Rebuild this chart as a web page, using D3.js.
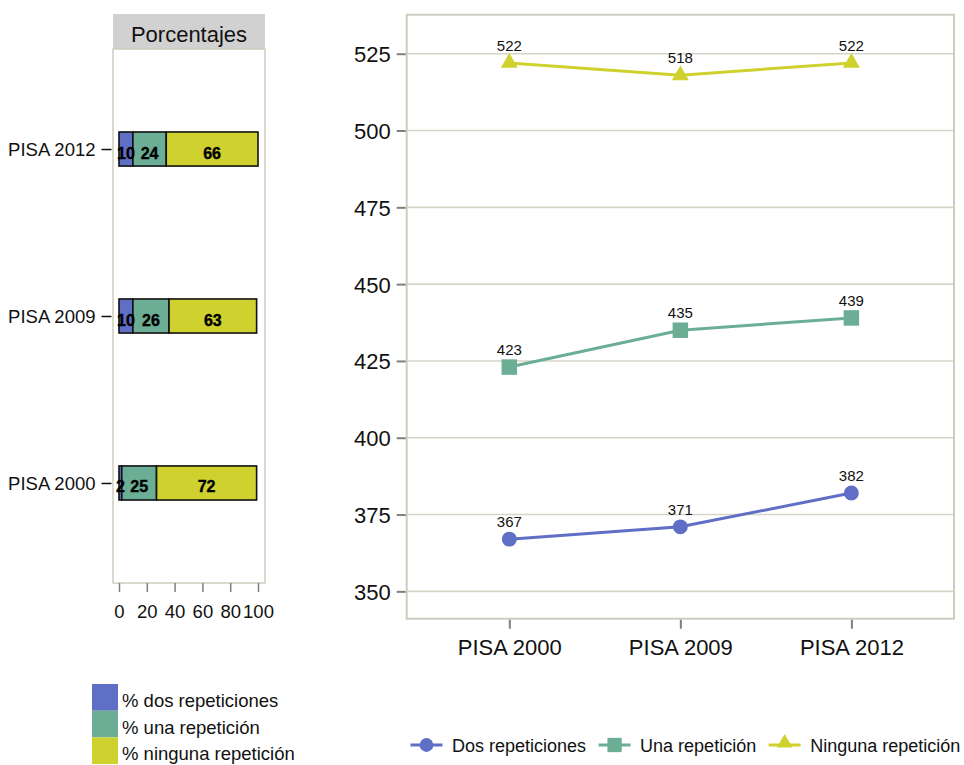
<!DOCTYPE html>
<html><head><meta charset="utf-8">
<script src="https://cdn.jsdelivr.net/npm/d3@7"></script>
<style>
body{margin:0;background:#fff;}
text{font-family:"Liberation Sans",Arial,sans-serif;}
</style>
</head><body>
<svg id="c" width="964" height="765"></svg>
<script>
// ---- data ----
const waves = ["PISA 2000", "PISA 2009", "PISA 2012"];
const seriesNames = ["Dos repeticiones", "Una repetición", "Ninguna repetición"];
const pctNames = ["% dos repeticiones", "% una repetición", "% ninguna repetición"];
const pctDos = [2, 10, 10];
const pctUna = [25, 26, 24];
const pctNinguna = [72, 63, 66];
const scoreDos = [367, 371, 382];
const scoreUna = [423, 435, 439];
const scoreNinguna = [522, 518, 522];
const pctTicks = [0, 20, 40, 60, 80, 100];
const scoreTicks = [350, 375, 400, 425, 450, 475, 500, 525];
const colors = ["#5f6fc6", "#6cae95", "#cfd12e"];

const svg = d3.select("#c");
const frameCol = "#cdcdbf";
const gridCol = "#d6d6c8";
const tickCol = "#7f7f7f";

// ================= LEFT PANEL =================
const L = {x0: 113, x1: 265, top: 49, bottom: 583};
svg.append("rect").attr("x", L.x0).attr("y", 14).attr("width", L.x1 - L.x0).attr("height", L.top - 14)
  .attr("fill", "#d1d1d1");
svg.append("text").attr("x", (L.x0 + L.x1) / 2).attr("y", 41.5).attr("text-anchor", "middle")
  .attr("font-size", 22).attr("fill", "#111").text("Porcentajes");
svg.append("rect").attr("x", L.x0).attr("y", L.top).attr("width", L.x1 - L.x0).attr("height", L.bottom - L.top)
  .attr("fill", "none").attr("stroke", frameCol).attr("stroke-width", 1.5);

const xp = d3.scaleLinear().domain([0, 100]).range([119, 258]);
const yb = d3.scaleBand().domain(waves.slice().reverse()).range([L.top, L.bottom])
  .paddingInner(0.796).paddingOuter(0.497);

const rows = waves.map((w, i) => ({wave: w, dos: pctDos[i], una: pctUna[i], ninguna: pctNinguna[i]}));
const keys = ["dos", "una", "ninguna"];
const stacked = d3.stack().keys(keys)(rows);

const gBars = svg.append("g");
stacked.forEach((layer, li) => {
  layer.forEach(d => {
    gBars.append("rect")
      .attr("x", xp(d[0])).attr("y", yb(d.data.wave))
      .attr("width", xp(d[1]) - xp(d[0])).attr("height", yb.bandwidth())
      .attr("fill", colors[li]).attr("stroke", "#111").attr("stroke-width", 1.6);
  });
});
stacked.forEach((layer, li) => {
  layer.forEach(d => {
    gBars.append("text")
      .attr("x", (xp(d[0]) + xp(d[1])) / 2).attr("y", yb(d.data.wave) + yb.bandwidth() / 2 + 9.5)
      .attr("text-anchor", "middle").attr("font-size", 16).attr("font-weight", "bold")
      .attr("fill", "#000").attr("stroke", "#000").attr("stroke-width", 0.4).text(d[1] - d[0]);
  });
});

// left axis
const yPoint = d3.scalePoint().domain(yb.domain()).range([yb(yb.domain()[0]) + yb.bandwidth()/2, yb(yb.domain()[2]) + yb.bandwidth()/2]);
const gLeft = svg.append("g").attr("transform", "translate(111.5,0)")
  .call(d3.axisLeft(yPoint).tickSize(10).tickPadding(6));
gLeft.select(".domain").remove();
gLeft.selectAll(".tick line").attr("stroke", "#111").attr("stroke-width", 1.5);
gLeft.selectAll(".tick text").attr("font-size", 18.5).attr("fill", "#111")
  .attr("font-family", "'Liberation Sans',Arial,sans-serif").attr("dy", "0.36em");

// bottom axis
const gBot = svg.append("g").attr("transform", `translate(0,${L.bottom})`)
  .call(d3.axisBottom(xp).tickValues(pctTicks).tickSize(9).tickPadding(13));
gBot.select(".domain").remove();
gBot.selectAll(".tick line").attr("stroke", tickCol).attr("stroke-width", 1.5);
gBot.selectAll(".tick text").attr("font-size", 18.5).attr("fill", "#111")
  .attr("font-family", "'Liberation Sans',Arial,sans-serif");

// left legend
const lg = svg.append("g");
pctNames.forEach((n, i) => {
  const top = 684 + i * 26.7;
  lg.append("rect").attr("x", 92).attr("y", top).attr("width", 26).attr("height", 26.7).attr("fill", colors[i]);
  lg.append("text").attr("x", 122).attr("y", top + 23).attr("font-size", 18.5).attr("fill", "#111").text(n);
});

// ================= RIGHT PANEL =================
const R = {x0: 406.7, x1: 954, top: 14.7, bottom: 618.7};
const xs = d3.scalePoint().domain(waves).range([R.x0, R.x1]).padding(0.6);
const ys = d3.scaleLinear().domain([341.1, 537.7]).range([R.bottom, R.top]);

// grid
svg.append("g").selectAll("line").data(scoreTicks).join("line")
  .attr("x1", R.x0).attr("x2", R.x1).attr("y1", d => ys(d)).attr("y2", d => ys(d))
  .attr("stroke", gridCol).attr("stroke-width", 1.6);
svg.append("rect").attr("x", R.x0).attr("y", R.top).attr("width", R.x1 - R.x0).attr("height", R.bottom - R.top)
  .attr("fill", "none").attr("stroke", frameCol).attr("stroke-width", 2);

// y axis
const gY = svg.append("g").attr("transform", `translate(${R.x0 - 1},0)`)
  .call(d3.axisLeft(ys).tickValues(scoreTicks).tickSize(9).tickPadding(6));
gY.select(".domain").remove();
gY.selectAll(".tick line").attr("stroke", tickCol).attr("stroke-width", 2);
gY.selectAll(".tick text").attr("font-size", 22).attr("fill", "#111")
  .attr("font-family", "'Liberation Sans',Arial,sans-serif").attr("dy", "0.36em");

// x axis
const gX = svg.append("g").attr("transform", `translate(0,${R.bottom + 1})`)
  .call(d3.axisBottom(xs).tickSize(9).tickPadding(11));
gX.select(".domain").remove();
gX.selectAll(".tick line").attr("stroke", tickCol).attr("stroke-width", 2);
gX.selectAll(".tick text").attr("font-size", 22).attr("fill", "#111")
  .attr("font-family", "'Liberation Sans',Arial,sans-serif");

// series
const series = [
  {name: seriesNames[0], vals: scoreDos, sym: d3.symbolCircle, size: 175},
  {name: seriesNames[1], vals: scoreUna, sym: d3.symbolSquare, size: 240},
  {name: seriesNames[2], vals: scoreNinguna, sym: d3.symbolTriangle, size: 125}
];
const line = d3.line().x((d, i) => xs(waves[i])).y(d => ys(d));
series.forEach((s, si) => {
  const g = svg.append("g");
  g.append("path").attr("d", line(s.vals)).attr("fill", "none").attr("stroke", colors[si]).attr("stroke-width", 3);
  s.vals.forEach((v, i) => {
    g.append("path").attr("d", d3.symbol(s.sym, s.size)())
      .attr("transform", `translate(${xs(waves[i])},${ys(v)})`).attr("fill", colors[si]);
    g.append("text").attr("x", xs(waves[i])).attr("y", ys(v) - 12).attr("text-anchor", "middle")
      .attr("font-size", 15).attr("fill", "#111").text(v);
  });
});

// right legend
const rl = svg.append("g");
let cx = 410.5;
const ly = 745;
series.forEach((s, si) => {
  rl.append("line").attr("x1", cx).attr("x2", cx + 32).attr("y1", ly).attr("y2", ly)
    .attr("stroke", colors[si]).attr("stroke-width", 3);
  rl.append("path").attr("d", d3.symbol(s.sym, s.size * 0.85)())
    .attr("transform", `translate(${cx + 16},${ly + (si === 2 ? -2 : 0)})`).attr("fill", colors[si]);
  const t = rl.append("text").attr("x", cx + 41.5).attr("y", ly + 6.5).attr("font-size", 18).attr("fill", "#111").text(s.name);
  cx = cx + 41.5 + t.node().getComputedTextLength() + 12.5;
});
</script>
</body></html>
